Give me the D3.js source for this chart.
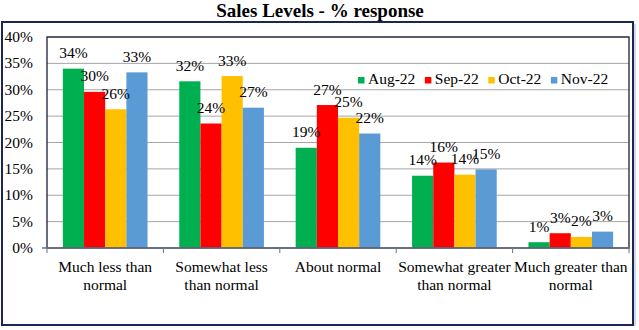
<!DOCTYPE html>
<html>
<head>
<meta charset="utf-8">
<script src="https://cdn.jsdelivr.net/npm/d3@7"></script>
<style>
  body { margin: 0; background: #fff; }
  svg text { font-family: "Liberation Serif", "Times New Roman", serif; fill: #000; }
</style>
</head>
<body>
<svg id="chart" width="639" height="330"></svg>
<script>
// survey answers, one group of bars per answer
var categories = [
  ["Much less than", "normal"],
  ["Somewhat less", "than normal"],
  ["About normal"],
  ["Somewhat greater", "than normal"],
  ["Much greater than", "normal"]
];
var months = ["Aug-22", "Sep-22", "Oct-22", "Nov-22"];
var colors = ["#00b050", "#ff0000", "#ffc000", "#5b9bd5"];

// % of respondents, one array per month
var aug22 = [34.0, 31.6, 19.0, 13.7, 1.1];
var sep22 = [29.6, 23.6, 27.1, 16.2, 2.8];
var oct22 = [26.3, 32.6, 24.7, 13.9, 2.1];
var nov22 = [33.3, 26.6, 21.7, 14.9, 3.1];
var yTicks = [0, 5, 10, 15, 20, 25, 30, 35, 40];

var series = [aug22, sep22, oct22, nov22];

var svg = d3.select("#chart");
var plotLeft = 47, plotRight = 629, plotTop = 37, plotBottom = 248;

// outer frame
svg.append("rect")
  .attr("x", 2).attr("y", 22).attr("width", 631).attr("height", 303)
  .attr("fill", "#fff").attr("stroke", "#1c2656").attr("stroke-width", 2);
svg.append("line")
  .attr("x1", 635).attr("x2", 635).attr("y1", 24).attr("y2", 326)
  .attr("stroke", "#c5cbe0").attr("stroke-width", 1.5);

svg.append("text")
  .attr("x", 320).attr("y", 17)
  .attr("text-anchor", "middle")
  .style("font-size", "19px").style("font-weight", "bold")
  .text("Sales Levels - % response");

var x0 = d3.scaleBand().domain(d3.range(categories.length)).range([plotLeft, plotRight]);
var x1 = d3.scaleBand().domain(d3.range(months.length))
  .range([0, x0.bandwidth()]).paddingOuter(0.75).paddingInner(0);
var y = d3.scaleLinear().domain([0, 40]).range([plotBottom, plotTop]);

// gridlines
svg.append("g").selectAll("line").data(yTicks.slice(1)).enter().append("line")
  .attr("x1", plotLeft).attr("x2", plotRight)
  .attr("y1", function(d){ return y(d); }).attr("y2", function(d){ return y(d); })
  .attr("stroke", "#a6a6a6").attr("stroke-width", 1);

// y labels
svg.append("g").selectAll("text").data(yTicks).enter().append("text")
  .attr("x", 33).attr("y", function(d){ return y(d) + 5; })
  .attr("text-anchor", "end")
  .style("font-size", "15.5px")
  .text(function(d){ return d + "%"; });

// bars
var groups = svg.append("g").selectAll("g").data(series).enter().append("g")
  .attr("fill", function(d, i){ return colors[i]; });

groups.each(function(vals, si){
  d3.select(this).selectAll("rect").data(vals).enter().append("rect")
    .attr("x", function(d, ci){ return x0(ci) + x1(si); })
    .attr("y", function(d){ return y(d); })
    .attr("width", x1.bandwidth())
    .attr("height", function(d){ return plotBottom - y(d); });
});

// plot frame and category axis
svg.append("rect")
  .attr("x", plotLeft).attr("y", plotTop)
  .attr("width", plotRight - plotLeft).attr("height", plotBottom - plotTop)
  .attr("fill", "none").attr("stroke", "#1a1f3a").attr("stroke-width", 1.3);
svg.append("line")
  .attr("x1", plotLeft - 5).attr("x2", plotRight).attr("y1", plotBottom).attr("y2", plotBottom)
  .attr("stroke", "#6d7184").attr("stroke-width", 1.5);
var bounds = d3.range(categories.length + 1).map(function(i){
  return i < categories.length ? x0(i) : plotRight;
});
svg.append("g").selectAll("line").data(bounds).enter().append("line")
  .attr("x1", function(d){ return d; }).attr("x2", function(d){ return d; })
  .attr("y1", plotBottom).attr("y2", plotBottom + 5)
  .attr("stroke", "#6d7184").attr("stroke-width", 1);

// value labels
var fmt = function(v){ return Math.round(v) + "%"; };
series.forEach(function(vals, si){
  svg.append("g").selectAll("text").data(vals).enter().append("text")
    .attr("x", function(d, ci){ return x0(ci) + x1(si) + x1.bandwidth() / 2; })
    .attr("y", function(d){ return y(d) - 10.5; })
    .attr("text-anchor", "middle")
    .style("font-size", "15.5px")
    .text(fmt);
});

svg.append("g").selectAll("text").data(categories).enter().append("text")
  .attr("x", function(d, i){ return x0(i) + x0.bandwidth() / 2; })
  .attr("y", 272)
  .attr("text-anchor", "middle")
  .style("font-size", "15.5px")
  .each(function(lines){
    var t = d3.select(this);
    lines.forEach(function(s, k){
      t.append("tspan").attr("x", t.attr("x")).attr("dy", k ? 18 : 0).text(s);
    });
  });

// legend
var legend = svg.append("g").attr("transform", "translate(358,84)");
var lx = 0;
months.forEach(function(m, i){
  legend.append("rect")
    .attr("x", lx).attr("y", -7).attr("width", 6.5).attr("height", 6.5)
    .attr("fill", colors[i]);
  var t = legend.append("text")
    .attr("x", lx + 10).attr("y", 0)
    .style("font-size", "15.5px")
    .text(m);
  lx += 10 + t.node().getComputedTextLength() + 9.5;
});
</script>
</body>
</html>
